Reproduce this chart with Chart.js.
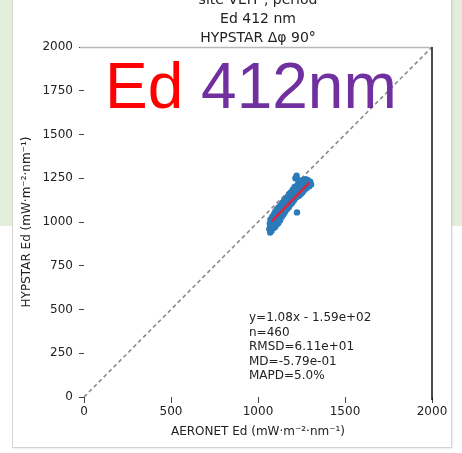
<!DOCTYPE html>
<html>
<head>
<meta charset="utf-8">
<script src="https://cdn.jsdelivr.net/npm/chart.js@4"></script>
<style>
  html, body { margin: 0; padding: 0; background: #fff; }
  #page { position: relative; width: 462px; height: 453px; overflow: hidden; }
  #green { position: absolute; left: 0; top: 0; width: 462px; height: 226px; background: #e3efda; }
  #card { position: absolute; left: 12px; top: -6px; width: 438px; height: 452px; background: #fff;
          border: 1px solid #d4d4d4; box-shadow: 1px 1px 2px rgba(0,0,0,0.08); }
  #wrap { position: absolute; left: 0; top: 0; width: 462px; height: 453px; }
  .titles { position: absolute; left: 84px; width: 348px; top: -10px; text-align: center;
            font: 14px "DejaVu Sans"; line-height: 19px; color: #222; }
  .stats { position: absolute; left: 249px; top: 310px; font: 12px "DejaVu Sans";
           line-height: 14.5px; color: #222; white-space: pre; }
  .big { position: absolute; left: 105px; top: 54px; font: 64px "Liberation Sans"; line-height: 64px;
         white-space: pre; }
</style>
</head>
<body>
<div id="page">
  <div id="green"></div>
  <div id="card"></div>
  <div id="wrap"><canvas id="scatterChart" width="462" height="453"></canvas></div>
  <div class="titles">site VEIT , period<br>Ed 412 nm<br>HYPSTAR Δφ 90°</div>
  <div class="stats">y=1.08x - 1.59e+02
n=460
RMSD=6.11e+01
MD=-5.79e-01
MAPD=5.0%</div>
  <div class="big"><span style="color:#ff0000">Ed</span> <span style="color:#7030a0">412nm</span></div>
</div>
<script>
// AERONET Ed vs HYPSTAR Ed at 412 nm
var aeronetEd = [1065, 1068, 1070, 1072, 1075, 1078, 1080, 1082, 1085, 1087, 1090, 1092, 1095, 1097,
    1100, 1102, 1105, 1107, 1110, 1112, 1115, 1117, 1120, 1122, 1125, 1127, 1130, 1132, 1135, 1137,
    1140, 1142, 1145, 1147, 1150, 1152, 1155, 1157, 1160, 1162, 1165, 1167, 1170, 1172, 1175, 1177,
    1180, 1182, 1185, 1187, 1190, 1192, 1195, 1197, 1200, 1202, 1205, 1207, 1210, 1212, 1215, 1218,
    1220, 1222, 1224, 1226, 1228, 1230, 1233, 1236, 1240, 1243, 1246, 1250, 1253, 1256, 1260, 1264,
    1268, 1272, 1276, 1280, 1285, 1290, 1295, 1300, 1305];
var hypstarEd = [960, 990, 940, 1015, 975, 950, 1000, 1030, 965, 1010, 985, 1045, 1020, 970,
    1060, 1000, 1035, 985, 1075, 1020, 1050, 995, 1085, 1040, 1065, 1010, 1095, 1055, 1080, 1030,
    1110, 1070, 1095, 1045, 1120, 1085, 1110, 1060, 1135, 1095, 1120, 1075, 1145, 1110, 1135, 1085,
    1160, 1120, 1150, 1100, 1170, 1135, 1160, 1110, 1185, 1145, 1175, 1125, 1200, 1160, 1250, 1190,
    1140, 1265, 1055, 1210, 1170, 1240, 1195, 1150, 1225, 1185, 1160, 1235, 1200, 1170, 1240, 1210,
    1185, 1245, 1215, 1195, 1240, 1220, 1205, 1230, 1215];

// regression line end points and the 1:1 line
var fitX = [1080, 1295];
var fitY = [1005, 1225];
var oneToOne = [0, 2000];

var xTicks = [0, 500, 1000, 1500, 2000];
var yTicks = [0, 250, 500, 750, 1000, 1250, 1500, 1750, 2000];

function pairs(xs, ys) {
    return xs.map(function (x, i) { return { x: x, y: ys[i] }; });
}

// top spine (grey) and right spine (black)
var framePlugin = {
    id: 'frame',
    afterDraw: function (chart) {
        var c = chart.ctx, a = chart.chartArea;
        c.save();
        c.strokeStyle = '#b8b8b8';
        c.lineWidth = 1.5;
        c.beginPath();
        c.moveTo(a.left - 4, a.top + 0.5);
        c.lineTo(a.right, a.top + 0.5);
        c.stroke();
        c.strokeStyle = '#111';
        c.lineWidth = 1.5;
        c.beginPath();
        c.moveTo(a.right, a.top);
        c.lineTo(a.right, a.bottom + 3);
        c.stroke();
        c.restore();
    }
};

document.addEventListener('DOMContentLoaded', function () {
    var ctx = document.getElementById('scatterChart').getContext('2d');
    var tickFont = { family: 'DejaVu Sans', size: 12 };

    new Chart(ctx, {
        type: 'scatter',
        data: {
            datasets: [{
                type: 'line',
                data: pairs(fitX, fitY),
                borderColor: '#d7263d',
                borderWidth: 2.5,
                pointRadius: 0,
                order: 0
            }, {
                data: pairs(aeronetEd, hypstarEd),
                backgroundColor: '#2b7bba',
                borderWidth: 0,
                pointRadius: 3.2,
                order: 1
            }, {
                type: 'line',
                data: pairs(oneToOne, oneToOne),
                borderColor: '#8a8a8a',
                borderWidth: 1.6,
                borderDash: [4, 3],
                pointRadius: 0,
                order: 2
            }]
        },
        options: {
            responsive: false,
            animation: false,
            layout: { padding: { left: 0, right: 30, top: 47, bottom: 0 } },
            plugins: {
                legend: { display: false },
                tooltip: { enabled: false }
            },
            scales: {
                x: {
                    type: 'linear',
                    min: 0,
                    max: 2000,
                    afterFit: function (s) { s.height = 56; },
                    afterBuildTicks: function (s) { s.ticks = xTicks.map(function (v) { return { value: v }; }); },
                    border: { display: false },
                    grid: { drawOnChartArea: false, drawTicks: true, tickLength: 6, tickColor: '#444' },
                    ticks: { font: tickFont, color: '#222', padding: 2, maxRotation: 0,
                             callback: function (v) { return String(v); } },
                    title: { display: true, text: 'AERONET Ed (mW·m⁻²·nm⁻¹)', font: tickFont, color: '#222',
                             padding: { top: 0, bottom: 14 } }
                },
                y: {
                    type: 'linear',
                    min: 0,
                    max: 2000,
                    afterFit: function (s) { s.width = 84; },
                    afterBuildTicks: function (s) { s.ticks = yTicks.map(function (v) { return { value: v }; }); },
                    border: { display: false },
                    grid: { drawOnChartArea: false, drawTicks: true, tickLength: 5, tickColor: '#444' },
                    ticks: { font: tickFont, color: '#222', padding: 6,
                             callback: function (v) { return String(v); } },
                    title: { display: true, text: 'HYPSTAR Ed (mW·m⁻²·nm⁻¹)', font: tickFont, color: '#222',
                             padding: { top: 20, bottom: 0 } }
                }
            }
        },
        plugins: [framePlugin]
    });
});
</script>
</body>
</html>
